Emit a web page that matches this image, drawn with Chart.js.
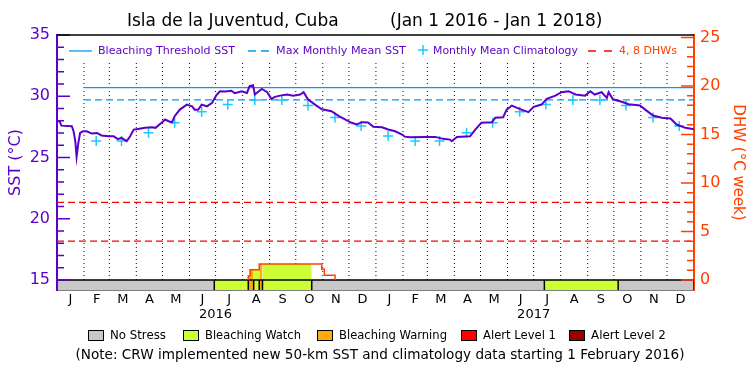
<!DOCTYPE html>
<html>
<head>
<meta charset="utf-8">
<title>Isla de la Juventud, Cuba</title>
<script src="https://cdn.jsdelivr.net/npm/chart.js@4.4.0/dist/chart.umd.min.js"></script>
<style>
  html, body { margin: 0; padding: 0; background: #fff; }
</style>
</head>
<body>
<canvas id="chartDHW" width="750" height="375"></canvas>
<script>
// AXIS / CALENDAR (days since Jan 1 2016)
var monthStarts = [0, 31, 60, 91, 121, 152, 182, 213, 244, 274, 305, 335,
                   366, 397, 425, 456, 486, 517, 547, 578, 609, 639, 670, 700, 731];
var monthLetters = ['J', 'F', 'M', 'A', 'M', 'J', 'J', 'A', 'S', 'O', 'N', 'D'];
var yearLabels = ['2016', '2017'];
var titleParts = ['Isla de la Juventud, Cuba', '(Jan 1 2016 - Jan 1 2018)'];

// DAILY SST
var sstDays = [0, 3, 5, 17, 19, 21, 22.5, 24.5, 26.5, 30,
  34, 40, 46, 51, 59, 65, 70, 74, 80, 84,
  88, 93, 101, 109, 113, 120, 124, 128, 132, 135,
  141, 149, 155, 158, 162, 166, 172, 178, 183, 187,
  193, 200, 204, 212, 218, 221, 225, 227, 235, 241,
  246, 250, 256, 264, 271, 279, 283, 288, 296, 304,
  315, 323, 331, 338, 344, 350, 357, 363, 373, 380,
  388, 396, 399, 405, 424, 434, 443, 451, 453, 459,
  474, 480, 487, 499, 503, 512, 516, 522, 528, 533,
  541, 547, 556, 562, 572, 579, 587, 595, 606, 612,
  617, 625, 631, 633, 638, 648, 656, 669, 675, 684,
  694, 704, 711, 721, 731];
var sstValues = [27.96, 27.96, 27.6, 27.55, 27.14, 26.33, 25.05, 26.2, 27.0, 27.14,
  27.14, 26.95, 27.0, 26.8, 26.73, 26.73, 26.5, 26.6, 26.33, 26.73,
  27.28, 27.33, 27.42, 27.47, 27.42, 27.83, 28.1, 27.96, 27.88, 28.37,
  28.91, 29.32, 29.18, 28.9, 28.9, 29.32, 29.18, 29.46, 30.1, 30.41,
  30.38, 30.45, 30.25, 30.41, 30.27, 30.82, 30.9, 30.14, 30.6, 30.35,
  29.79, 29.95, 30.05, 30.14, 30.05, 30.14, 30.33, 29.75, 29.32, 28.93,
  28.78, 28.4, 28.1, 27.83, 27.69, 27.88, 27.85, 27.5, 27.47, 27.28,
  27.14, 26.87, 26.7, 26.65, 26.68, 26.68, 26.52, 26.46, 26.33, 26.68,
  26.73, 27.28, 27.83, 27.88, 28.24, 28.29, 28.91, 29.24, 29.05, 28.91,
  28.7, 29.13, 29.32, 29.79, 30.05, 30.33, 30.41, 30.14, 30.05, 30.41,
  30.14, 30.33, 29.87, 30.33, 29.75, 29.55, 29.35, 29.24, 28.91, 28.42,
  28.24, 28.18, 27.69, 27.42, 27.3];

// MONTHLY MEAN CLIMATOLOGY (15th of each month, Feb 2016 - Dec 2017)
var climDays = [45, 74, 105, 135, 166, 196, 227, 258, 288, 319, 349,
  380, 411, 439, 470, 500, 531, 561, 592, 623, 653, 684, 714];
var climValues = [26.34, 26.34, 27.02, 27.84, 28.73, 29.32, 29.7, 29.7, 29.24, 28.27, 27.58,
  26.75, 26.34, 26.34, 27.02, 27.84, 28.73, 29.32, 29.7, 29.7, 29.24, 28.27, 27.58];

var bleachThreshold = 30.7;
var mmm = 29.7;
var thresholdFrom = 31;   // new climatology starts Feb 1 2016
var dhwLevels = [4, 8];

// DEGREE HEATING WEEKS (step values)
var dhwDays = [219.5, 219.5, 221.5, 232.1, 303.8, 306.8, 319];
var dhwValues = [0, 0.4, 1.05, 1.65, 1.1, 0.5, 0];

// STRESS LEVEL BAR
var stressStart = [0, 180.5, 219.5, 225.7, 232.1, 235.8, 292.3, 559.3, 644];
var stressLevel = [0, 1, 2, 1, 2, 1, 0, 1, 0];
var stressNames = ['No Stress', 'Bleaching Watch', 'Bleaching Warning', 'Alert Level 1', 'Alert Level 2'];
var stressColors = ['#c8c8c8', '#ccff33', '#ffaa10', '#ff0000', '#990000'];

// colours / ranges
var purple = '#5a00c8';
var orange = '#ff4000';
var blue = '#0099ff';
var cyan = '#1ec8ff';
var sstMin = 14.18, sstMax = 35;
var dhwMin = -1.03, dhwMax = 25.25;
var dotTop = 32.75;
var dayEnd = 731;

function dhwAt(d) {
  var v = 0;
  for (var i = 0; i < dhwDays.length; i++) {
    if (dhwDays[i] <= d) v = dhwValues[i];
  }
  return v;
}

// ---------------- DATASETS (first one drawn on top)
var datasets = [];

datasets.push({
  data: sstDays.map(function (d, i) { return { x: d, y: sstValues[i] }; }),
  yAxisID: 'sst', borderColor: purple, borderWidth: 2, pointRadius: 0, tension: 0
});

datasets.push({
  data: climDays.map(function (d, i) { return { x: d, y: climValues[i] }; }),
  yAxisID: 'sst', showLine: false, pointStyle: 'cross', pointRadius: 5,
  pointBorderWidth: 1.5, pointBorderColor: cyan, borderColor: cyan
});

datasets.push({
  data: dhwDays.map(function (d, i) { return { x: d, y: dhwValues[i] }; }),
  yAxisID: 'dhw', stepped: true, borderColor: orange, borderWidth: 1.5, pointRadius: 0
});

datasets.push({
  data: [{ x: thresholdFrom, y: bleachThreshold }, { x: dayEnd, y: bleachThreshold }],
  yAxisID: 'sst', borderColor: blue, borderWidth: 1.3, pointRadius: 0
});

datasets.push({
  data: [{ x: thresholdFrom, y: mmm }, { x: dayEnd, y: mmm }],
  yAxisID: 'sst', borderColor: blue, borderWidth: 1.3, borderDash: [7, 4], pointRadius: 0
});

dhwLevels.forEach(function (l) {
  datasets.push({
    data: [{ x: 0, y: l }, { x: dayEnd, y: l }],
    yAxisID: 'dhw', borderColor: '#ff0000', borderWidth: 1.3, borderDash: [7, 4], pointRadius: 0
  });
});

// bar top edge
datasets.push({
  data: [{ x: 0, y: 15 }, { x: dayEnd, y: 15 }],
  yAxisID: 'sst', borderColor: '#000', borderWidth: 1.5, pointRadius: 0
});

// bar dividers
var dividerPts = [];
stressStart.concat([dayEnd]).forEach(function (b) {
  dividerPts.push({ x: b, y: sstMin }, { x: b, y: 15 }, { x: b, y: null });
});
datasets.push({
  data: dividerPts, yAxisID: 'sst', borderColor: '#000', borderWidth: 1.5, pointRadius: 0
});

// stress colour under the DHW curve and in the bar
for (var s = 0; s < stressStart.length; s++) {
  var a = stressStart[s];
  var b = s + 1 < stressStart.length ? stressStart[s + 1] : dayEnd;
  var col = stressColors[stressLevel[s]];
  if (stressLevel[s] > 0) {
    var pts = [{ x: a, y: dhwAt(a) }];
    dhwDays.forEach(function (d, i) { if (d > a && d < b) pts.push({ x: d, y: dhwValues[i] }); });
    pts.push({ x: b, y: dhwAt(b) });
    datasets.push({
      data: pts, yAxisID: 'dhw', stepped: true, borderWidth: 0, pointRadius: 0,
      backgroundColor: col, fill: { value: 0 }
    });
  }
  datasets.push({
    data: [{ x: a, y: 15 }, { x: b, y: 15 }],
    yAxisID: 'sst', borderWidth: 0, pointRadius: 0, backgroundColor: col, fill: 'start'
  });
}

// dotted month lines
var dotPts = [];
monthStarts.slice(1, -1).forEach(function (m) {
  dotPts.push({ x: m, y: 15 }, { x: m, y: dotTop }, { x: m, y: null });
});
datasets.push({
  data: dotPts, yAxisID: 'sst', borderColor: '#000', borderWidth: 1, borderDash: [1, 3], pointRadius: 0
});

var monthMids = [];
for (var k = 0; k < 24; k++) monthMids.push((monthStarts[k] + monthStarts[k + 1]) / 2);

// ---------------- PLUGINS
function fitText(ctx, text, x, y, width, size, align) {
  ctx.font = size + 'px "DejaVu Sans"';
  var w = ctx.measureText(text).width;
  var sz = size * width / w;
  ctx.font = sz.toFixed(2) + 'px "DejaVu Sans"';
  ctx.textAlign = align || 'left';
  ctx.fillText(text, x, y);
}

var inwardTicks = {
  id: 'inwardTicks',
  afterDraw: function (chart) {
    var ctx = chart.ctx, area = chart.chartArea;
    ctx.save();
    ctx.lineWidth = 1.5;
    [['sst', purple, area.left, 1], ['dhw', orange, area.right, -1]].forEach(function (ax) {
      var scale = chart.scales[ax[0]];
      ctx.strokeStyle = ax[1];
      ctx.beginPath();
      scale.ticks.forEach(function (t) {
        var y = scale.getPixelForValue(t.value);
        var len = t.value % 5 === 0 ? 13 : 7;
        ctx.moveTo(ax[2], y);
        ctx.lineTo(ax[2] + ax[3] * len, y);
      });
      ctx.stroke();
    });
    // top frame
    ctx.strokeStyle = '#000';
    ctx.beginPath();
    ctx.moveTo(area.left, area.top);
    ctx.lineTo(area.right, area.top);
    ctx.stroke();
    // year labels
    var xs = chart.scales.x;
    ctx.fillStyle = '#000';
    ctx.font = '13px "DejaVu Sans"';
    ctx.textAlign = 'center';
    ctx.textBaseline = 'middle';
    yearLabels.forEach(function (yl, i) {
      ctx.fillText(yl, xs.getPixelForValue(monthStarts[6 + 12 * i]), 315);
    });
    // title
    ctx.font = '17px "DejaVu Sans"';
    ctx.textAlign = 'left';
    ctx.fillText(titleParts[0], 127, 22);
    ctx.fillText(titleParts[1], 390, 22);
    ctx.restore();
  }
};

var legends = {
  id: 'legends',
  afterDraw: function (chart) {
    var ctx = chart.ctx, y = 51;
    ctx.save();
    ctx.textBaseline = 'middle';
    ctx.lineWidth = 1.3;
    ctx.strokeStyle = blue;
    ctx.beginPath(); ctx.moveTo(69, y); ctx.lineTo(92, y); ctx.stroke();
    ctx.fillStyle = purple;
    fitText(ctx, 'Bleaching Threshold SST', 98, y, 137, 11);
    ctx.setLineDash([8, 5]);
    ctx.beginPath(); ctx.moveTo(248, y); ctx.lineTo(269, y); ctx.stroke();
    fitText(ctx, 'Max Monthly Mean SST', 276, y, 130, 11);
    ctx.setLineDash([]);
    ctx.strokeStyle = cyan; ctx.lineWidth = 1.5;
    ctx.beginPath();
    ctx.moveTo(418, y - 1); ctx.lineTo(428, y - 1);
    ctx.moveTo(423, y - 6); ctx.lineTo(423, y + 4);
    ctx.stroke();
    fitText(ctx, 'Monthly Mean Climatology', 433, y, 145, 11);
    ctx.strokeStyle = '#ff0000'; ctx.lineWidth = 1.3;
    ctx.setLineDash([8, 8]);
    ctx.beginPath(); ctx.moveTo(588, y); ctx.lineTo(613, y); ctx.stroke();
    ctx.setLineDash([]);
    ctx.fillStyle = orange;
    fitText(ctx, '4, 8 DHWs', 619, y, 58, 11);

    // bottom legend
    var boxX = [88, 183, 317, 461, 569];
    var textW = [56, 96, 108, 73, 75];
    ctx.lineWidth = 1;
    ctx.strokeStyle = '#000';
    stressNames.forEach(function (n, i) {
      ctx.fillStyle = stressColors[i];
      ctx.fillRect(boxX[i], 330, 15, 10);
      ctx.strokeRect(boxX[i] + 0.5, 330.5, 15, 10);
      ctx.fillStyle = '#000';
      fitText(ctx, n, boxX[i] + 22, 336, textW[i], 12);
    });
    fitText(ctx, '(Note: CRW implemented new 50-km SST and climatology data starting 1 February 2016)',
      380, 355, 609, 12, 'center');
    ctx.restore();
  }
};

new Chart(document.getElementById('chartDHW'), {
  type: 'line',
  data: { datasets: datasets },
  plugins: [inwardTicks, legends],
  options: {
    responsive: false,
    animation: false,
    events: [],
    layout: { padding: { left: 0, right: 0, top: 35, bottom: 65 } },
    plugins: {
      legend: { display: false },
      tooltip: { enabled: false },
      title: { display: false }
    },
    scales: {
      x: {
        type: 'linear', min: 0, max: dayEnd,
        afterBuildTicks: function (s) { s.ticks = monthMids.map(function (v) { return { value: v }; }); },
        afterFit: function (s) { s.height = 20; },
        ticks: {
          autoSkip: false, maxRotation: 0, padding: 2, color: '#000',
          font: { family: 'DejaVu Sans', size: 13 },
          callback: function (v, i) { return monthLetters[i % 12]; }
        },
        grid: { display: false, drawTicks: false },
        border: { display: true, color: '#000', width: 1.5 }
      },
      sst: {
        position: 'left', min: sstMin, max: sstMax,
        afterBuildTicks: function (s) {
          s.ticks = [];
          for (var v = 15; v <= 35; v++) s.ticks.push({ value: v });
        },
        afterFit: function (s) { s.width = 57; },
        ticks: {
          autoSkip: false, padding: 7, color: purple,
          font: { family: 'DejaVu Sans', size: 16 },
          callback: function (v) { return v % 5 === 0 ? v : ''; }
        },
        grid: { display: false, drawTicks: false },
        border: { display: true, color: purple, width: 2 },
        title: {
          display: true, text: 'SST (\u00B0C)', color: purple,
          font: { family: 'DejaVu Sans', size: 16 }, padding: { top: 6, bottom: 0 }
        }
      },
      dhw: {
        position: 'right', min: dhwMin, max: dhwMax,
        afterBuildTicks: function (s) {
          s.ticks = [];
          for (var v = 0; v <= 25; v++) s.ticks.push({ value: v });
        },
        afterFit: function (s) { s.width = 56; },
        ticks: {
          autoSkip: false, padding: 6, color: orange,
          font: { family: 'DejaVu Sans', size: 16 },
          callback: function (v) { return v % 5 === 0 ? v : ''; }
        },
        grid: { display: false, drawTicks: false },
        border: { display: true, color: orange, width: 2 },
        title: {
          display: true, text: 'DHW (\u00B0C week)', color: orange,
          font: { family: 'DejaVu Sans', size: 15 }, padding: { top: 3, bottom: 0 }
        }
      }
    }
  }
});
</script>
</body>
</html>
